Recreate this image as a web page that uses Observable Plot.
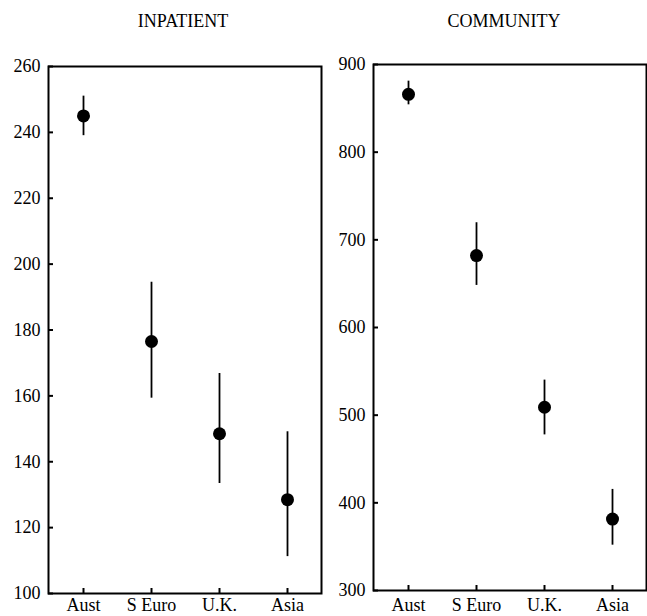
<!DOCTYPE html>
<html>
<head>
<meta charset="utf-8">
<script src="https://cdn.jsdelivr.net/npm/d3@7"></script>
<script src="https://cdn.jsdelivr.net/npm/@observablehq/plot@0.6"></script>
<style>
  html, body { margin: 0; padding: 0; background: white; overflow: hidden; }
  #wrap { position: relative; width: 647px; height: 616px; overflow: hidden; font-family: "Liberation Serif", "DejaVu Serif", serif; background: white; }
  .title { position: absolute; top: 12px; font-size: 18px; line-height: 18px; transform: translateX(-50%); white-space: nowrap; z-index: 5; color: black; }
  .panel { position: absolute; top: 0; z-index: 1; }
</style>
</head>
<body>
<div id="wrap">
  <div class="panel" id="p1" style="left:0px"></div>
  <div class="panel" id="p2" style="left:325px"></div>
  <div class="title" style="left:183px">INPATIENT</div>
  <div class="title" style="left:504px">COMMUNITY</div>
</div>
<script>
const regions = ["Aust", "S Euro", "U.K.", "Asia"];

const inpatientMean = [245, 176.5, 148.5, 128.5];
const inpatientLow  = [239, 159.3, 133.4, 111.2];
const inpatientHigh = [251, 194.5, 166.8, 149.1];
const inpatientTicks = [100, 120, 140, 160, 180, 200, 220, 240, 260];

const communityMean = [866, 682, 509, 381.5];
const communityLow  = [854, 648, 477.5, 351.7];
const communityHigh = [881, 719.5, 540, 415.3];
const communityTicks = [300, 400, 500, 600, 700, 800, 900];

function rows(mean, lo, hi) {
  return regions.map((r, i) => ({region: r, mean: mean[i], lo: lo[i], hi: hi[i]}));
}

function panel(data, domain, ticks, opts) {
  return Plot.plot({
    width: opts.width,
    height: 630,
    marginLeft: 48,
    marginRight: opts.marginRight,
    marginTop: opts.marginTop,
    marginBottom: 630 - opts.bottom,
    style: {fontFamily: "'Liberation Serif', serif", fontSize: "18px", color: "black", background: "transparent"},
    x: {type: "point", domain: regions, padding: 0.5},
    y: {domain: domain},
    marks: [
      Plot.axisY({ticks: ticks, tickSize: -5, tickPadding: 13, strokeWidth: 2, label: null, fontSize: 18}),
      Plot.axisX({tickSize: -5, tickPadding: opts.xPad, strokeWidth: 2, label: null, fontSize: 18}),
      Plot.frame({stroke: "black", strokeWidth: 2}),
      Plot.ruleX(data, {x: "region", y1: "lo", y2: "hi", stroke: "black", strokeWidth: 1.8}),
      Plot.dot(data, {x: "region", y: "mean", r: 6.5, fill: "black", stroke: "none"})
    ]
  });
}

document.getElementById("p1").append(
  panel(rows(inpatientMean, inpatientLow, inpatientHigh), [100, 260], inpatientTicks,
        {width: 335, marginRight: 14, marginTop: 66, bottom: 593, xPad: 10})
);
document.getElementById("p2").append(
  panel(rows(communityMean, communityLow, communityHigh), [300, 900], communityTicks,
        {width: 322, marginRight: 1, marginTop: 64, bottom: 590, xPad: 13})
);
</script>
</body>
</html>
